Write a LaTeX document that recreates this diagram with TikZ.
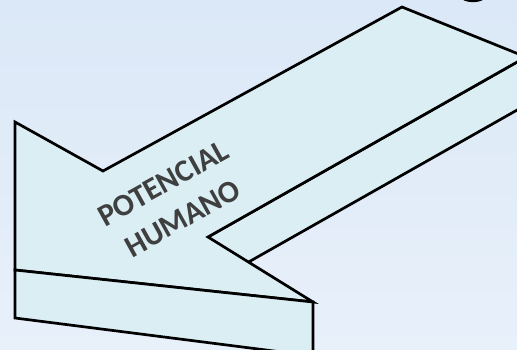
\documentclass[tikz,border=0pt]{standalone}
\usepackage{fontspec}
\setmainfont{Carlito}
\definecolor{bgA}{HTML}{DBE8F7}
\definecolor{bgB}{HTML}{E8F0FA}
\definecolor{arrowfill}{HTML}{DAEEF3}
\definecolor{txt}{HTML}{3F3F3F}
\tikzset{
  face/.style={fill=arrowfill, draw=black, line width=2.7pt, line join=miter},
  label/.style={text=txt, font=\bfseries\fontsize{31}{38}\selectfont, align=center, rotate=29, inner sep=0pt}
}
\begin{document}
\begin{tikzpicture}[x=1pt,y=-1pt]
\useasboundingbox (0,0) rectangle (517,350);
\clip (0,0) rectangle (517,350);
\shade[left color=bgA, right color=bgB, shading angle=0] (0,0) rectangle (517,350);
\shade[top color=bgA, bottom color=bgB, opacity=0.5] (0,0) rectangle (517,350);
% partial glyph at top right
\draw[line width=3pt] (463,-2) .. controls (467,1.5) and (479,1.5) .. (483,-2);
% side face of shaft
\draw[face] (208,237) -- (526,57) -- (526,105) -- (208,285) -- cycle;
% top face
\draw[face] (15,122) -- (103,171) -- (402,7) -- (526,57) -- (208,237) -- (313,302) -- (15,270) -- cycle;
% front face of head
\draw[face] (15,270) -- (313,302) -- (313,356) -- (15,318) -- cycle;
\node[label] (t) at (173,201) {POTENCIAL\\[2pt]HUMANO};
\end{tikzpicture}
\end{document}
